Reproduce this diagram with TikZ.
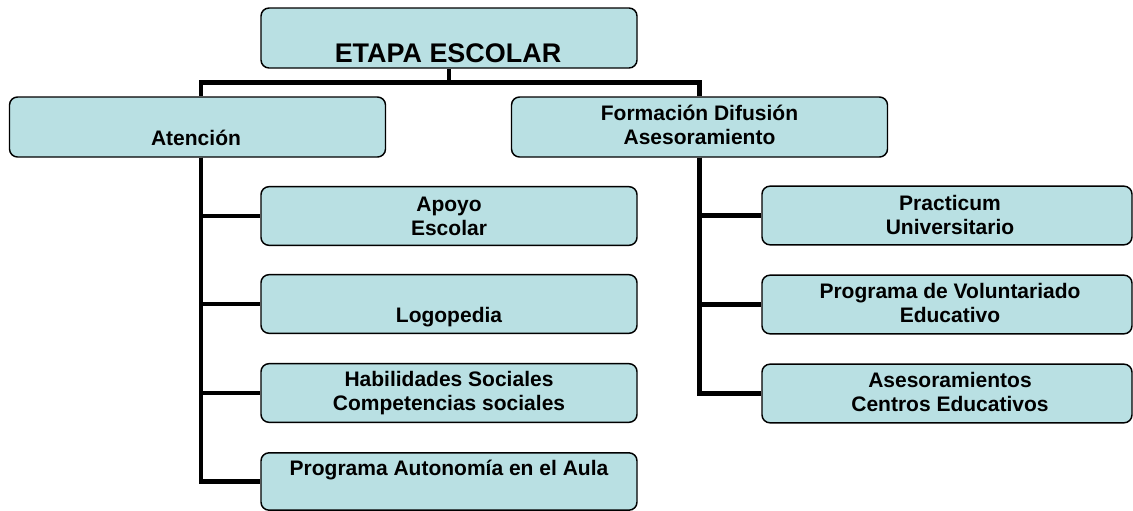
\documentclass[tikz,border=0pt]{standalone}
\usepackage{fontspec}
\setmainfont{Liberation Sans}
\usepackage{tikz}
\usepackage{xcolor}
\definecolor{boxfill}{RGB}{185,224,227}

\begin{document}
\begin{tikzpicture}[
    x=0.75pt, y=-0.75pt,
    box/.style={draw, line width=1.1pt, rounded corners=6pt, fill=boxfill,
      minimum width=282pt, minimum height=44pt, inner sep=0pt},
    rbox/.style={box, minimum width=277.5pt},
    txt/.style={font=\bfseries\fontsize{15.75}{18}\selectfont, align=center, inner sep=0pt},
    link/.style={line width=3.6pt},
  ]
  \useasboundingbox (0,0) rectangle (1133,511);

  % top
  \node[box, minimum height=45pt] (etapa) at (449,38) {};
  \node[txt, font=\bfseries\fontsize{20.2}{22}\selectfont, anchor=base] (etapa-t) at (448,62) {ETAPA ESCOLAR};

  % second row
  \node[box, minimum height=45pt] (aten) at (197.5,127) {};
  \node[txt, anchor=base] (aten-t) at (196,145.5) {Atención};
  \node[box, minimum height=45pt] (form) at (699.5,127) {};
  \node[txt] (form-t) at (699.5,125) {Formación Difusión\\Asesoramiento};

  % left column
  \node[box] (apoyo) at (449,216) {};
  \node[txt] (apoyo-t) at (449,216.5) {Apoyo\\Escolar};
  \node[box] (logo) at (449,304) {};
  \node[txt, anchor=base] (logo-t) at (449,322.5) {Logopedia};
  \node[box] (habil) at (449,393) {};
  \node[txt] (habil-t) at (449,393.5) {Habilidades Sociales\\Competencias sociales};
  \node[box, minimum height=43pt] (auton) at (449,481.5) {};
  \node[txt, anchor=base] (auton-t) at (449,475.5) {Programa Autonomía en el Aula};

  % right column
  \node[rbox] (pract) at (947,215.5) {};
  \node[txt] (pract-t) at (950,214.5) {Practicum\\Universitario};
  \node[rbox] (volun) at (947,304.5) {};
  \node[txt] (volun-t) at (950,303) {Programa de Voluntariado\\Educativo};
  \node[rbox] (ases) at (947,393.5) {};
  \node[txt] (ases-t) at (950,391.5) {Asesoramientos\\Centros Educativos};

  % connectors
  \draw[link] (etapa.south) -- ++(0,14) coordinate (hub);
  \draw[link] (hub) -| ([xshift=2.6pt]aten.north);
  \draw[link] (hub) -| (form.north);
  \foreach \n in {apoyo,logo,habil,auton}
    \draw[link] ([xshift=2.6pt]aten.south) |- (\n.west);
  \foreach \n in {pract,volun,ases}
    \draw[link] (form.south) |- (\n.west);
\end{tikzpicture}
\end{document}
